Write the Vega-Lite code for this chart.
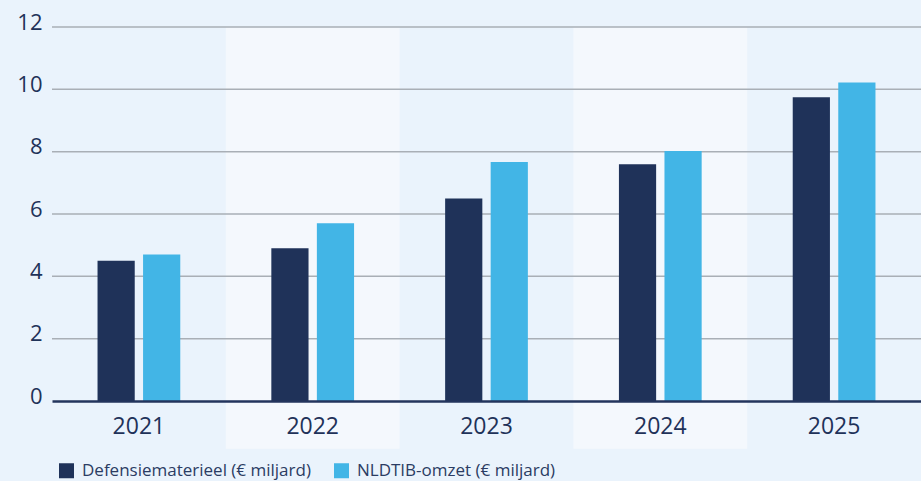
{
  "$schema": "https://vega.github.io/schema/vega-lite/v6.json",
  "width": 869,
  "height": 374,
  "autosize": {"type": "none"},
  "padding": {"left": 52, "top": 27, "right": 0, "bottom": 80},
  "background": "#EAF3FC",
  "config": {"view": {"stroke": null}, "font": "Open Sans"},
  "datasets": {
    "bands": [
      {"year": "2022", "top": 12, "bottom": -1.53},
      {"year": "2024", "top": 12, "bottom": -1.53}
    ],
    "grid": [
      {"value": 2}, {"value": 4}, {"value": 6}, {"value": 8}, {"value": 10}, {"value": 12}
    ],
    "bars": [
      {"year": "2021", "series": "Defensiematerieel (€ miljard)", "value": 4.5},
      {"year": "2021", "series": "NLDTIB-omzet (€ miljard)", "value": 4.7},
      {"year": "2022", "series": "Defensiematerieel (€ miljard)", "value": 4.9},
      {"year": "2022", "series": "NLDTIB-omzet (€ miljard)", "value": 5.7},
      {"year": "2023", "series": "Defensiematerieel (€ miljard)", "value": 6.5},
      {"year": "2023", "series": "NLDTIB-omzet (€ miljard)", "value": 7.67},
      {"year": "2024", "series": "Defensiematerieel (€ miljard)", "value": 7.6},
      {"year": "2024", "series": "NLDTIB-omzet (€ miljard)", "value": 8.02},
      {"year": "2025", "series": "Defensiematerieel (€ miljard)", "value": 9.75},
      {"year": "2025", "series": "NLDTIB-omzet (€ miljard)", "value": 10.22}
    ]
  },
  "resolve": {"scale": {"x": "shared", "y": "shared"}},
  "layer": [
    {
      "data": {"name": "bands"},
      "mark": {"type": "rect", "color": "#F4F8FD", "clip": false},
      "encoding": {
        "x": {
          "field": "year", "type": "nominal",
          "scale": {"domain": ["2021", "2022", "2023", "2024", "2025"], "paddingInner": 0, "paddingOuter": 0},
          "axis": {
            "title": null, "labelAngle": 0, "ticks": false, "grid": false,
            "domainColor": "#23355D", "domainWidth": 2.5,
            "labelFontSize": 23, "labelColor": "#1F3259", "labelPadding": 14,
            "zindex": 1
          }
        },
        "y": {
          "field": "top", "type": "quantitative",
          "scale": {"domain": [0, 12], "nice": false, "zero": false},
          "axis": {
            "title": null, "values": [0, 2, 4, 6, 8, 10, 12], "grid": false, "domain": false, "ticks": false,
            "labelFontSize": 22, "labelColor": "#1F3259", "labelPadding": 10,
            "labelBaseline": "alphabetic", "labelOffset": 2
          }
        },
        "y2": {"field": "bottom"}
      }
    },
    {
      "data": {"name": "grid"},
      "mark": {"type": "rule", "color": "#A9AFB6", "strokeWidth": 1.5},
      "encoding": {"y": {"field": "value", "type": "quantitative"}}
    },
    {
      "data": {"name": "bars"},
      "mark": {"type": "bar"},
      "encoding": {
        "x": {"field": "year", "type": "nominal"},
        "xOffset": {
          "field": "series", "type": "nominal",
          "scale": {"domain": ["Defensiematerieel (€ miljard)", "NLDTIB-omzet (€ miljard)"], "paddingInner": 0.183, "paddingOuter": 1.163}
        },
        "y": {"field": "value", "type": "quantitative"},
        "color": {
          "field": "series", "type": "nominal",
          "scale": {"domain": ["Defensiematerieel (€ miljard)", "NLDTIB-omzet (€ miljard)"], "range": ["#1F3259", "#42B5E6"]},
          "legend": {
            "title": null, "orient": "none", "legendX": 6, "legendY": 435, "direction": "horizontal",
            "symbolType": "square", "symbolSize": 225, "symbolStrokeWidth": 0, "symbolOpacity": 1,
            "labelFontSize": 17, "labelColor": "#2B3C63", "labelLimit": 400, "labelOffset": 7, "columnPadding": 22
          }
        }
      }
    }
  ]
}
